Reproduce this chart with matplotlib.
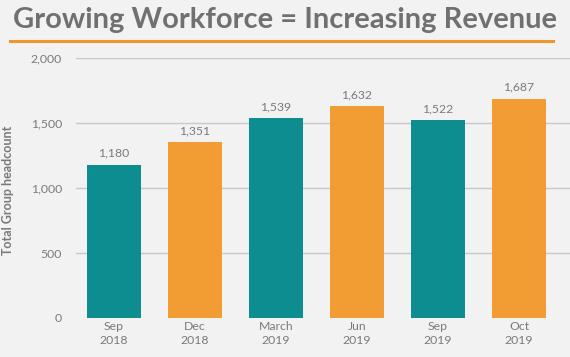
import matplotlib
matplotlib.use("Agg")
import matplotlib.pyplot as plt
from matplotlib.lines import Line2D

# Data
periods = ["Sep\n2018", "Dec\n2018", "March\n2019", "Jun\n2019", "Sep\n2019", "Oct\n2019"]
headcount = [1180, 1351, 1539, 1632, 1522, 1687]
y_ticks = [0, 500, 1000, 1500, 2000]

TEAL = "#0e8d90"
ORANGE = "#f29d34"
GREY_TXT = "#7a7a7a"
BG = "#f2f2f2"

plt.rcParams["font.family"] = ["Lato", "DejaVu Sans"]

fig = plt.figure(figsize=(5.7, 3.57), dpi=100)
fig.patch.set_facecolor(BG)

# ── title + orange rule ───────────────────────────────────────────────────
fig.text(0.5, 0.944, "Growing Workforce = Increasing Revenue",
         ha="center", va="center", fontsize=21, fontweight="bold",
         color="#707070")
fig.add_artist(Line2D([10 / 570, 553 / 570], [0.885, 0.885],
                      color="#f0962c", linewidth=2.2))

# ── chart ─────────────────────────────────────────────────────────────────
ax = fig.add_axes([76 / 570, 1 - 318 / 357, 1 - 76 / 570, (318 - 58) / 357])
ax.set_facecolor(BG)

x = range(len(periods))
colors = [TEAL if i % 2 == 0 else ORANGE for i in x]
bars = ax.bar(x, headcount, width=0.67, color=colors, zorder=3)

for b, v in zip(bars, headcount):
    ax.text(b.get_x() + b.get_width() / 2, v + 45, f"{v:,}",
            ha="center", va="bottom", fontsize=8.8, color=GREY_TXT)

ax.set_xlim(-0.47, 5.63)
ax.set_ylim(0, 2000)
ax.set_yticks(y_ticks)
ax.set_yticklabels([f"{t:,}" for t in y_ticks])
ax.set_xticks(list(x))
ax.set_xticklabels(periods, linespacing=1.35)
ax.tick_params(length=0, colors=GREY_TXT, labelsize=8.8)
ax.tick_params(axis="y", pad=10)
ax.tick_params(axis="x", pad=2)

for t in y_ticks[1:]:
    ax.axhline(t, color="#c9c9c9", linewidth=1, zorder=1)

for s in ax.spines.values():
    s.set_visible(False)

fig.text(8 / 570, 1 - 190 / 357, "Total Group headcount", rotation=90,
         ha="center", va="center", fontsize=9, fontweight="bold",
         color=GREY_TXT)

fig.savefig("out.png", dpi=100, facecolor=fig.get_facecolor())
